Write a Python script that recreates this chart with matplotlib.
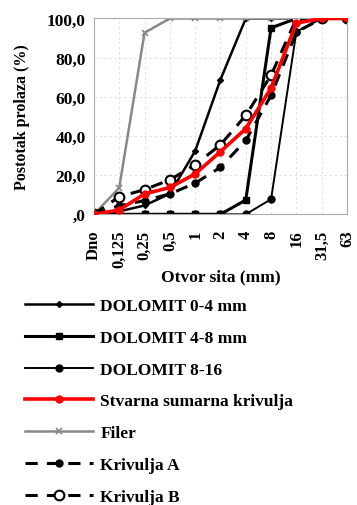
import matplotlib
matplotlib.use("Agg")
import matplotlib.pyplot as plt

# ── Data ─────────────────────────────────────────────
sieves = ["Dno", "0,125", "0,25", "0,5", "1", "2", "4", "8", "16", "31,5", "63"]

dolomit_0_4  = [0, 1.5, 4.5, 10.5, 32.3, 68.8, 100, 100, 100, 100, 100]
dolomit_4_8  = [0, 0, 0, 0, 0, 0, 7.3, 95.2, 100, 100, 100]
dolomit_8_16 = [0, 0, 0, 0, 0, 0, 0, 7.7, 93.3, 100, 100]
stvarna      = [0, 2.2, 10.4, 13.7, 20.6, 32.0, 43.7, 64.5, 97.6, 100, 100]
filer        = [0, 13.5, 92.7, 100, 100, 100, 100, 100, 100, 100, 100]
krivulja_a   = [0, 4.4, 7.0, 10.4, 15.9, 24.0, 37.7, 60.7, 93.0, 100, 100]
krivulja_b   = [0, 9.0, 12.6, 17.6, 25.3, 35.5, 50.5, 71.0, 100, 100, 100]

yticks = [0, 20, 40, 60, 80, 100]
ytick_labels = [",0", "20,0", "40,0", "60,0", "80,0", "100,0"]

plt.rcParams["font.family"] = ["Liberation Serif", "DejaVu Serif"]
plt.rcParams["font.weight"] = "bold"

fig = plt.figure(figsize=(3.57, 5.06), dpi=100)
ax = fig.add_axes([0.263, 0.5745, 0.709, 0.387])

x = list(range(len(sieves)))

ax.plot(x, dolomit_0_4, color="black", lw=1.8, marker="D", ms=3,
        label="DOLOMIT 0-4 mm")
ax.plot(x, dolomit_4_8, color="black", lw=2.2, marker="s", ms=5,
        label="DOLOMIT 4-8 mm")
ax.plot(x, dolomit_8_16, color="black", lw=1.4, marker="o", ms=5,
        label="DOLOMIT 8-16")
ax.plot(x, stvarna, color="#ff0000", lw=2.6, marker="o", ms=5,
        label="Stvarna sumarna krivulja", zorder=4)
ax.plot(x, filer, color="#888888", lw=1.8, marker="x", ms=4, mew=1.2,
        label="Filer")
ax.plot(x, krivulja_a, color="black", lw=2.2, ls=(0, (4, 3)), marker="o",
        ms=5, label="Krivulja A")
ax.plot(x, krivulja_b, color="black", lw=2.2, ls=(0, (4, 3)), marker="o",
        ms=7, mfc="white", mew=1.5, label="Krivulja B")

ax.set_xlim(0, len(sieves) - 1)
ax.set_ylim(0, 100)
ax.set_xticks(x)
ax.set_xticklabels(sieves, rotation=90, fontsize=12, fontweight="bold")
ax.set_yticks(yticks)
ax.set_yticklabels(ytick_labels, fontsize=12.5, fontweight="bold")
ax.tick_params(axis="y", length=0, pad=6)
ax.tick_params(axis="x", length=0, pad=11)
ax.grid(True, color="#dddddd", ls=(0, (3, 3)), lw=0.6)
for s in ax.spines.values():
    s.set_color("#aaaaaa")
    s.set_linewidth(0.8)

ax.set_xlabel("Otvor sita (mm)", fontsize=12.5, fontweight="bold", labelpad=1)
ax.set_ylabel("Postotak prolaza (%)", fontsize=11.5, fontweight="bold", labelpad=12)

fig.legend(loc="upper left", bbox_to_anchor=(0.05, 0.423), frameon=False,
           prop={"weight": "bold", "size": 12.5}, handlelength=3.9,
           labelspacing=0.9, handletextpad=0.45, borderaxespad=0)

fig.savefig("out.png", dpi=100)
